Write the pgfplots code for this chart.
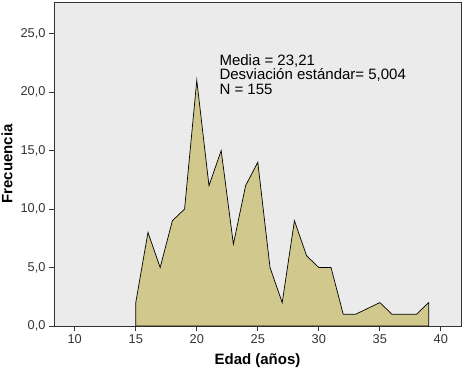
\documentclass[border=0pt]{standalone}
\usepackage{fontspec}
\setmainfont{Liberation Sans}
\usepackage{pgfplots}
\pgfplotsset{compat=1.18}
\definecolor{areafill}{RGB}{208,200,140}
\definecolor{bgray}{RGB}{235,235,235}
\begin{document}
\begin{tikzpicture}[x=1bp,y=1bp]
\path[use as bounding box] (-54bp,-49bp) rectangle (410bp,326bp);
\begin{axis}[
  at={(0,0)}, anchor=south west,
  scale only axis,
  width=407bp, height=324bp,
  xmin=8.3, xmax=41.65,
  ymin=0, ymax=27.7,
  axis background/.style={fill=bgray},
  axis line style={black!80, line width=0.8pt},
  xtick={10,15,...,40},
  ytick={0,5,...,25},
  yticklabels={0{,}0,5{,}0,10{,}0,15{,}0,20{,}0,25{,}0},
  tick align=outside,
  tick pos=left,
  major tick length=5bp,
  tick style={black!80, line width=0.8pt},
  /pgf/number format/assume math mode=true,
  tick label style={font=\fontsize{12.8bp}{14bp}\selectfont, text=black!80},
  xlabel={Edad (años)},
  ylabel={Frecuencia},
  label style={font=\bfseries\fontsize{15bp}{17bp}\selectfont},
  xlabel style={at={(axis description cs:0.5,0)}, anchor=north, yshift=-24bp},
  ylabel style={at={(axis description cs:0,0.5)}, anchor=south, yshift=38bp},
  clip=false,
]
\addplot[fill=areafill, draw=black, line width=0.7pt, line join=miter] coordinates {
(15,0) (15,2) (16,8) (17,5) (18,9) (19,10) (20,21) (21,12) (22,15) (23,7)
(24,12) (25,14) (26,5) (27,2) (28,9) (29,6) (30,5) (31,5) (32,1) (33,1)
(35,2) (36,1) (38,1) (39,2) (39,0)
} -- cycle;
\node[anchor=north west, align=left, inner sep=0pt,
      font=\fontsize{15bp}{14.6bp}\selectfont]
  at (axis cs:21.85,23.25) {Media = 23,21\\Desviación estándar= 5,004\\N = 155};
\end{axis}
\end{tikzpicture}
\end{document}
